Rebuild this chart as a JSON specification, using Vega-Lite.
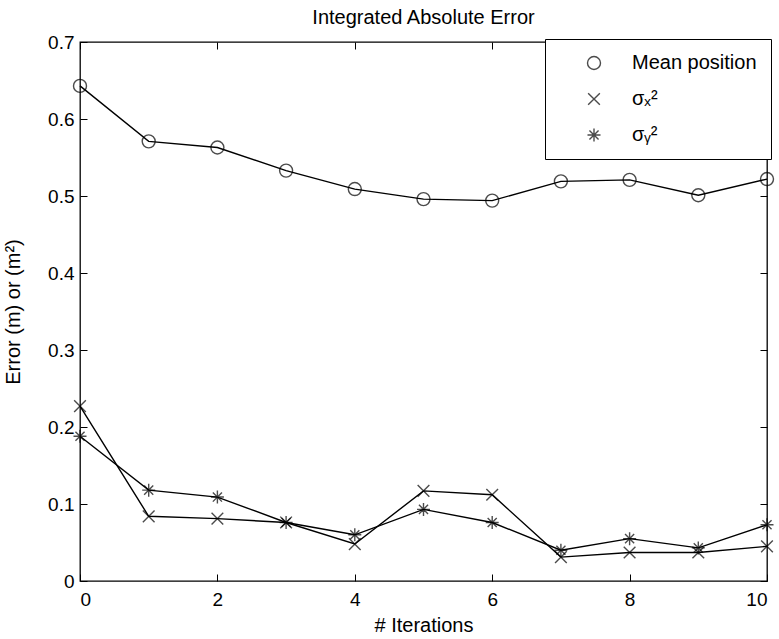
{
  "$schema": "https://vega.github.io/schema/vega-lite/v6.json",
  "autosize": "none",
  "width": 687,
  "height": 539,
  "padding": {"left": 80, "top": 42, "right": 12, "bottom": 58},
  "background": "white",
  "title": {"text": "Integrated Absolute Error", "fontSize": 20, "fontWeight": "normal", "font": "Liberation Sans", "color": "black", "offset": 5, "anchor": "middle"},
  "config": {
    "font": "Liberation Sans",
    "view": {"stroke": "black", "strokeWidth": 1.3},
    "axis": {"domain": false, "grid": false, "tickColor": "black", "tickSize": -7, "tickWidth": 1, "labelColor": "black", "labelFontSize": 19, "titleColor": "black", "titleFontSize": 20, "titleFontWeight": "normal"}
  },
  "data": {"values": [
    {"iter": 0, "series": "Mean position", "value": 0.643},
    {"iter": 1, "series": "Mean position", "value": 0.571},
    {"iter": 2, "series": "Mean position", "value": 0.563},
    {"iter": 3, "series": "Mean position", "value": 0.533},
    {"iter": 4, "series": "Mean position", "value": 0.509},
    {"iter": 5, "series": "Mean position", "value": 0.496},
    {"iter": 6, "series": "Mean position", "value": 0.494},
    {"iter": 7, "series": "Mean position", "value": 0.519},
    {"iter": 8, "series": "Mean position", "value": 0.521},
    {"iter": 9, "series": "Mean position", "value": 0.501},
    {"iter": 10, "series": "Mean position", "value": 0.522},
    {"iter": 0, "series": "σₓ²", "value": 0.227},
    {"iter": 1, "series": "σₓ²", "value": 0.084},
    {"iter": 2, "series": "σₓ²", "value": 0.081},
    {"iter": 3, "series": "σₓ²", "value": 0.076},
    {"iter": 4, "series": "σₓ²", "value": 0.048},
    {"iter": 5, "series": "σₓ²", "value": 0.117},
    {"iter": 6, "series": "σₓ²", "value": 0.112},
    {"iter": 7, "series": "σₓ²", "value": 0.031},
    {"iter": 8, "series": "σₓ²", "value": 0.037},
    {"iter": 9, "series": "σₓ²", "value": 0.037},
    {"iter": 10, "series": "σₓ²", "value": 0.045},
    {"iter": 0, "series": "σᵧ²", "value": 0.188},
    {"iter": 1, "series": "σᵧ²", "value": 0.118},
    {"iter": 2, "series": "σᵧ²", "value": 0.109},
    {"iter": 3, "series": "σᵧ²", "value": 0.076},
    {"iter": 4, "series": "σᵧ²", "value": 0.060},
    {"iter": 5, "series": "σᵧ²", "value": 0.093},
    {"iter": 6, "series": "σᵧ²", "value": 0.076},
    {"iter": 7, "series": "σᵧ²", "value": 0.040},
    {"iter": 8, "series": "σᵧ²", "value": 0.055},
    {"iter": 9, "series": "σᵧ²", "value": 0.043},
    {"iter": 10, "series": "σᵧ²", "value": 0.073}
  ]},
  "layer": [
    {
      "mark": {"type": "line", "color": "black", "strokeWidth": 1.4},
      "encoding": {
        "x": {"field": "iter", "type": "quantitative", "scale": {"domain": [0, 10], "nice": false}, "axis": {"orient": "bottom", "values": [0, 2, 4, 6, 8, 10], "title": "# Iterations", "labelPadding": 16, "titlePadding": 6}},
        "y": {"field": "value", "type": "quantitative", "scale": {"domain": [0, 0.7], "nice": false}, "axis": {"orient": "left", "values": [0, 0.1, 0.2, 0.3, 0.4, 0.5, 0.6, 0.7], "format": ".1~f", "title": "Error (m) or (m²)", "labelPadding": 13, "titlePadding": 24}},
        "detail": {"field": "series"}
      }
    },
    {
      "mark": {"type": "point", "filled": false, "color": "black", "strokeWidth": 1.4, "size": 169},
      "encoding": {
        "x": {"field": "iter", "type": "quantitative", "axis": {"orient": "top", "values": [0, 2, 4, 6, 8, 10], "labels": false, "title": null}},
        "y": {"field": "value", "type": "quantitative", "axis": {"orient": "right", "values": [0, 0.1, 0.2, 0.3, 0.4, 0.5, 0.6, 0.7], "labels": false, "title": null}},
        "shape": {
          "field": "series", "type": "nominal",
          "scale": {"domain": ["Mean position", "σₓ²", "σᵧ²"], "range": ["circle", "M-0.9,-0.9L0.9,0.9M-0.9,0.9L0.9,-0.9", "M-1,0L1,0M0,-1L0,1M-0.7,-0.7L0.7,0.7M-0.7,0.7L0.7,-0.7"]},
          "legend": {"title": null, "orient": "none", "legendX": 465, "legendY": -3, "strokeColor": "black", "fillColor": "white", "padding": 14, "symbolOffset": 25, "labelOffset": 28, "rowPadding": 16, "labelFontSize": 20, "labelColor": "black", "symbolStrokeColor": "black", "symbolFillColor": "transparent", "symbolStrokeWidth": 1.4, "symbolSize": 169}
        }
      }
    }
  ],
  "resolve": {"axis": {"x": "independent", "y": "independent"}}
}
